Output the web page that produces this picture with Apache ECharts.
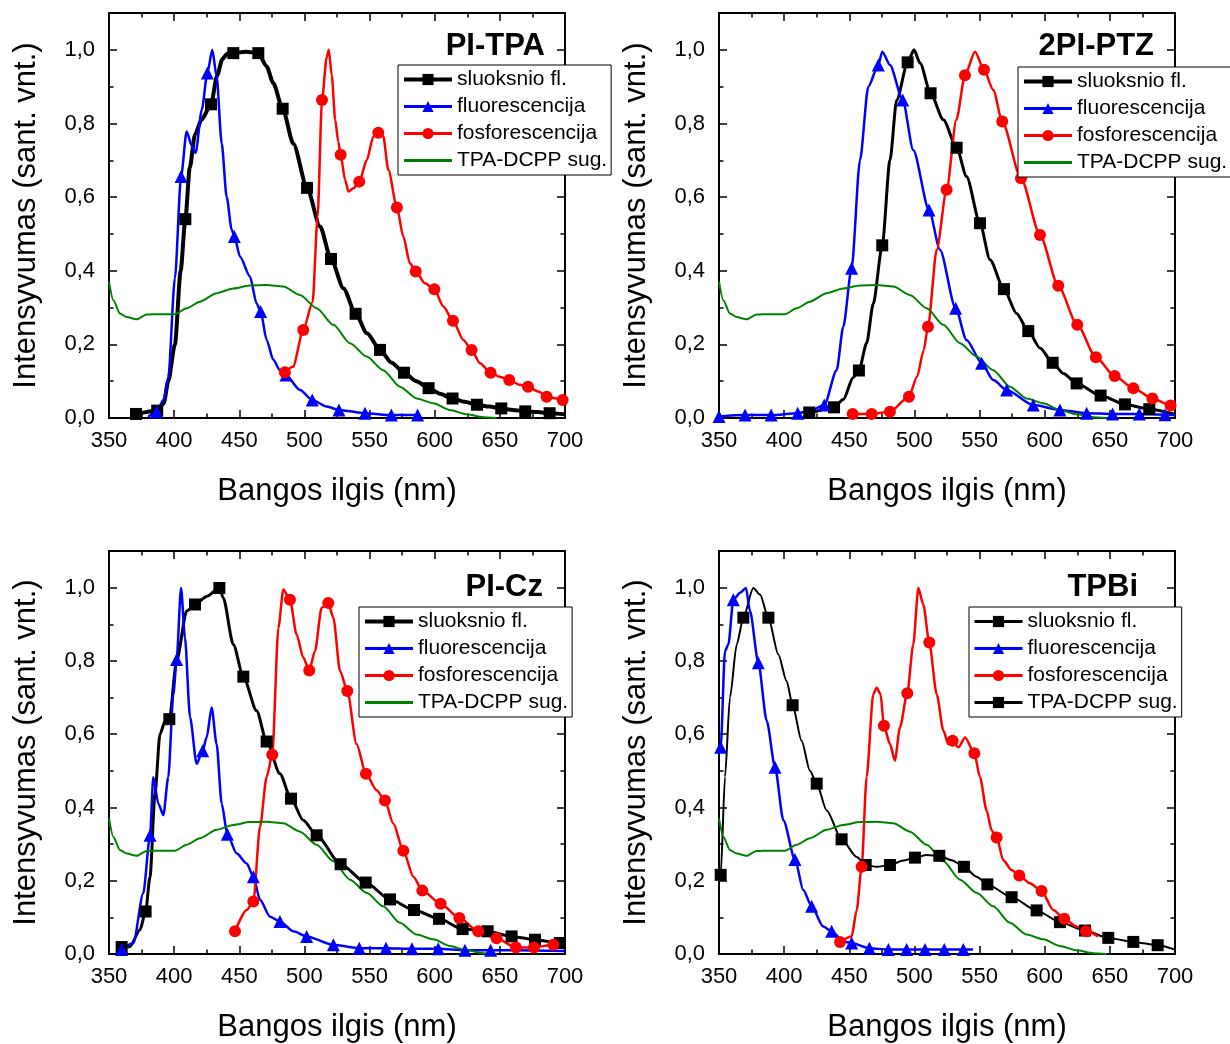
<!DOCTYPE html>
<html>
<head>
<meta charset="utf-8">
<script src="https://cdn.jsdelivr.net/npm/echarts@6/dist/echarts.min.js"></script>
<style>
  html, body { margin: 0; padding: 0; background: #fff; }
  #chart { width: 1230px; height: 1044px; }
</style>
</head>
<body>
<div id="chart"></div>
<script>
// ---- Spectra: [wavelength nm, normalised intensity] ----
// "Curve" arrays trace the spectrum, "Marks" arrays are the points carrying symbols.

// TPA-DCPP absorption (same in every panel)
const dcppAbsorption = [
  [350, 0.37], [353.3, 0.32], [358.4, 0.284], [363.6, 0.274], [371.2, 0.268], [378.9, 0.281],
  [389.1, 0.282], [400.7, 0.282], [409.6, 0.298], [419.8, 0.316], [432.6, 0.339], [445.4, 0.352],
  [458.2, 0.36], [471, 0.361], [483.8, 0.357], [496.6, 0.334], [509.4, 0.298], [522.2, 0.253],
  [535, 0.203], [547.7, 0.167], [560.5, 0.13], [573.3, 0.085], [586.1, 0.053], [598.9, 0.04],
  [611.7, 0.022], [624.5, 0.01], [637.3, 0.002], [647.5, 0.0]
];

// PI-TPA
const tpaFilmCurve = [
  [392, 0.04], [395.5, 0.10], [400.6, 0.20], [405, 0.40], [412, 0.68], [416, 0.77], [421, 0.81],
  [433, 0.93], [437, 0.975], [441, 0.99], [455, 0.995], [471, 0.955], [476, 0.91], [491.5, 0.745],
  [512, 0.52], [530, 0.352], [548, 0.23], [567, 0.15], [586, 0.10], [604, 0.066], [623, 0.044],
  [642, 0.031], [660, 0.022], [679, 0.016], [700, 0.01]
];
const tpaFilmMarks = [
  [370.7, 0.011], [387, 0.02], [408.6, 0.54], [428.3, 0.852], [445.4, 0.991], [464.6, 0.991],
  [483.3, 0.84], [502, 0.625], [520.4, 0.432], [539.3, 0.283], [558, 0.185], [576.4, 0.123],
  [595.3, 0.081], [613.7, 0.053], [632.4, 0.036], [651.1, 0.026], [669.5, 0.018], [688.2, 0.013]
];
const tpaFluoCurve = [
  [380, 0.003], [392, 0.05], [395.5, 0.11], [400.6, 0.38], [409.6, 0.778], [413.5, 0.74],
  [416.5, 0.72], [421.2, 0.837], [429.3, 1.0], [432.6, 0.928], [436.5, 0.746], [440.3, 0.601],
  [444.2, 0.511], [450.6, 0.438], [458.2, 0.384], [463.3, 0.311], [471, 0.212], [476.1, 0.158],
  [481.2, 0.13], [496.6, 0.076], [517.1, 0.031]
];
const tpaFluoMarks = [
  [386.6, 0.017], [405.3, 0.656], [425.5, 0.937], [446.2, 0.493], [466.4, 0.289], [485.8, 0.117],
  [506, 0.049], [526.5, 0.022], [546.5, 0.013], [566.7, 0.008], [586.9, 0.008]
];
const tpaPhosCurve = [
  [491.2, 0.139], [506.3, 0.315], [510.1, 0.547], [517.1, 0.98], [518.7, 1.0], [521, 0.93],
  [523.6, 0.81], [526, 0.75], [531.2, 0.647], [533.8, 0.615], [537.6, 0.624], [547.8, 0.70],
  [552.9, 0.764], [560.5, 0.765], [564.4, 0.674], [575.9, 0.493], [581, 0.42], [592.5, 0.366],
  [606.6, 0.303], [622, 0.212], [634.7, 0.149], [650, 0.112], [665.4, 0.09], [679.6, 0.072],
  [693.5, 0.053]
];
const tpaPhosMarks = [
  [485, 0.124], [499.1, 0.239], [513.5, 0.864], [527.8, 0.715], [542.1, 0.642], [556.7, 0.775],
  [571, 0.572], [585.4, 0.398], [599.7, 0.35], [614, 0.264], [628.3, 0.185], [642.9, 0.123],
  [657.2, 0.103], [671.6, 0.085], [685.9, 0.058], [698.2, 0.049]
];

// 2PI-PTZ
const ptzFilmCurve = [
  [414.7, 0.0], [445.4, 0.05], [453, 0.11], [463.3, 0.203], [468.4, 0.31], [481.2, 0.70],
  [486.4, 0.864], [499.7, 1.0], [504.3, 0.964], [522.2, 0.81], [540, 0.656], [558, 0.43],
  [578.4, 0.284], [596.4, 0.19], [614.3, 0.121], [700, 0.01]
];
const ptzFilmMarks = [
  [419.3, 0.015], [438.3, 0.029], [457.4, 0.129], [475.3, 0.469], [494.8, 0.966], [512.4, 0.882],
  [532.4, 0.734], [550.3, 0.529], [568.7, 0.35], [587.4, 0.236], [606.1, 0.15], [624.5, 0.094],
  [642.9, 0.061], [661.6, 0.037], [680.3, 0.024]
];
const ptzFluoCurve = [
  [420, 0.02], [440.3, 0.13], [445.4, 0.248], [458.2, 0.70], [464.6, 0.90], [475.3, 0.995],
  [481.2, 0.959], [499.1, 0.728], [519.6, 0.457], [540, 0.212], [560.5, 0.103], [700, 0.008]
];
const ptzFluoMarks = [
  [350, 0.004], [370, 0.008], [390, 0.008], [410.4, 0.013], [430.8, 0.035], [451.8, 0.407],
  [472.3, 0.959], [491, 0.864], [511.2, 0.565], [531.6, 0.298], [551.6, 0.149], [570.8, 0.076],
  [591.2, 0.035], [611.7, 0.022], [632.2, 0.013], [652.1, 0.011], [672.6, 0.011], [692.3, 0.009]
];
const ptzPhosCurve = [
  [502, 0.112], [507.2, 0.185], [517.1, 0.457], [532.2, 0.81], [546.5, 0.995], [560.5, 0.891],
  [700, 0.03]
];
const ptzPhosMarks = [
  [452.6, 0.011], [467.2, 0.011], [481.2, 0.017], [495.8, 0.058], [510.4, 0.248], [524.7, 0.62],
  [538.8, 0.931], [553.4, 0.946], [567.4, 0.805], [581.8, 0.651], [596.4, 0.497], [610.4, 0.359],
  [625, 0.253], [639.3, 0.165], [653.7, 0.114], [668, 0.081], [682.6, 0.053], [696.6, 0.034]
];

// PI-Cz
const czFilmCurve = [
  [366, 0.02], [373.8, 0.066], [381.5, 0.211], [385.3, 0.437], [389.1, 0.60], [393, 0.635],
  [401.9, 0.80], [409.6, 0.936], [425, 0.976], [437.7, 0.972], [445.4, 0.845], [463.3, 0.664],
  [481.2, 0.492], [499.1, 0.365], [700, 0.028]
];
const czFilmMarks = [
  [359.7, 0.019], [378.1, 0.116], [396.3, 0.641], [416, 0.954], [434.7, 0.999], [453.1, 0.757],
  [471, 0.58], [489.7, 0.424], [509.4, 0.324], [527.8, 0.245], [547, 0.195], [565.7, 0.149],
  [584.1, 0.12], [603.3, 0.096], [621.4, 0.068], [640.6, 0.062], [659, 0.048], [677, 0.039],
  [696.1, 0.03]
];
const czFluoCurve = [
  [368.7, 0.03], [376.3, 0.166], [384, 0.483], [387.9, 0.41], [391.7, 0.379], [395.5, 0.483],
  [399.4, 0.709], [405.3, 0.999], [408.3, 0.863], [412.2, 0.646], [417.3, 0.519], [425, 0.592],
  [428.8, 0.673], [432.6, 0.573], [436.5, 0.41], [448, 0.274], [455.7, 0.247], [465.9, 0.148],
  [473.6, 0.102], [491.5, 0.062], [662, 0.01], [700, 0.008]
];
const czFluoMarks = [
  [359.7, 0.012], [381.5, 0.324], [401.9, 0.804], [421.9, 0.555], [440.8, 0.327], [460.8, 0.211],
  [481.2, 0.089], [501.7, 0.048], [522.2, 0.025], [542.1, 0.016], [562.6, 0.016], [582.5, 0.014],
  [602.7, 0.014], [623.2, 0.01], [642.9, 0.01]
];
const czPhosCurve = [
  [455.7, 0.12], [465.9, 0.347], [471, 0.483], [480, 0.89], [483.8, 0.995], [494, 0.872],
  [499.1, 0.809], [508.1, 0.827], [513.2, 0.945], [522.2, 0.918], [527.3, 0.773], [540, 0.573],
  [555.4, 0.447], [568.2, 0.356], [583.6, 0.211], [700, 0.02]
];
const czPhosMarks = [
  [446.7, 0.062], [460.8, 0.143], [475.3, 0.544], [488.9, 0.967], [503.7, 0.774], [518.3, 0.958],
  [532.9, 0.718], [547.2, 0.492], [561.8, 0.419], [575.9, 0.282], [590.5, 0.173], [604.5, 0.137],
  [618.9, 0.098], [633.4, 0.062], [647.5, 0.043], [662.3, 0.018], [676.2, 0.018], [691, 0.025]
];

// TPBi
const tpbiFilmCurve = [
  [350.5, 0.20], [354.6, 0.483], [358.4, 0.70], [363.6, 0.845], [376.3, 0.999], [381.5, 0.981],
  [395.5, 0.818], [401.9, 0.745], [413.4, 0.582], [419.8, 0.50], [432.6, 0.392], [455.7, 0.265],
  [471, 0.238], [491.5, 0.255], [509.4, 0.27], [528.6, 0.256], [547.7, 0.211], [700, 0.012]
];
const tpbiFilmMarks = [
  [351.3, 0.216], [368.7, 0.918], [387.9, 0.918], [406.5, 0.679], [425, 0.465], [444.1, 0.313],
  [462.6, 0.243], [481.2, 0.243], [500.4, 0.263], [519.1, 0.268], [538, 0.238], [556, 0.19],
  [574.6, 0.155], [593.8, 0.119], [611.7, 0.087], [630.9, 0.064], [648.8, 0.044], [668, 0.033],
  [686.7, 0.024]
];
const tpbiFluoCurve = [
  [350, 0.55], [354.6, 0.827], [357.2, 0.845], [366.2, 0.986], [370.7, 0.999], [373.8, 0.936],
  [386.6, 0.637], [399.4, 0.365], [414.7, 0.175], [430, 0.075], [445.4, 0.034], [545, 0.012]
];
const tpbiFluoMarks = [
  [351.3, 0.564], [361, 0.967], [380.2, 0.795], [393, 0.51], [408.3, 0.258], [421.1, 0.13],
  [436.5, 0.062], [451.8, 0.03], [465.4, 0.016], [480, 0.012], [494, 0.012], [508.1, 0.012],
  [522.9, 0.012], [537.5, 0.012]
];
const tpbiPhosCurve = [
  [451.8, 0.048], [455.7, 0.12], [463.3, 0.483], [468.4, 0.709], [471, 0.727], [474, 0.709],
  [481.2, 0.573], [485, 0.528], [488.9, 0.619], [499.1, 0.845], [503, 0.999], [506.8, 0.954],
  [517.1, 0.709], [522.2, 0.61], [526, 0.573], [533.8, 0.564], [538.9, 0.591], [550.3, 0.483],
  [555.4, 0.392], [559.2, 0.338], [568.2, 0.256], [574.6, 0.229], [588.6, 0.193], [606.6, 0.12],
  [624.5, 0.075], [641, 0.048]
];
const tpbiPhosMarks = [
  [442.9, 0.033], [459.5, 0.238], [476.6, 0.623], [494.5, 0.712], [511.4, 0.85], [529.3, 0.582],
  [546, 0.548], [563.1, 0.318], [580.5, 0.214], [597.6, 0.172], [615, 0.096], [631.7, 0.062]
];

// Axis ticks
const xTicks = { min: 350, max: 700, step: 50 };
const yTicks = { min: 0, max: 1.1, step: 0.2, minorStep: 0.1 };

const seriesLabels = ['sluoksnio fl.', 'fluorescencija', 'fosforescencija', 'TPA-DCPP sug.'];

// ---- Layout & styling ----
const FONT = "'Liberation Sans', Arial, Helvetica, sans-serif";
const panels = [
  { title: 'PI-TPA', grid: { left: 109, top: 13 }, titlePos: { right: 685, top: 31 }, legendPos: { left: 398, top: 65 },
    film: [tpaFilmCurve, tpaFilmMarks], fluo: [tpaFluoCurve, tpaFluoMarks], phos: [tpaPhosCurve, tpaPhosMarks], filmWidth: 4 },
  { title: '2PI-PTZ', grid: { left: 719, top: 13 }, titlePos: { right: 76, top: 31 }, legendPos: { left: 1018, top: 67 },
    film: [ptzFilmCurve, ptzFilmMarks], fluo: [ptzFluoCurve, ptzFluoMarks], phos: [ptzPhosCurve, ptzPhosMarks], filmWidth: 3 },
  { title: 'PI-Cz', grid: { left: 109, top: 551 }, titlePos: { right: 687, top: 572 }, legendPos: { left: 359, top: 607 },
    film: [czFilmCurve, czFilmMarks], fluo: [czFluoCurve, czFluoMarks], phos: [czPhosCurve, czPhosMarks], filmWidth: 3 },
  { title: 'TPBi', grid: { left: 719, top: 551 }, titlePos: { right: 92, top: 572 }, legendPos: { left: 969, top: 607 },
    film: [tpbiFilmCurve, tpbiFilmMarks], fluo: [tpbiFluoCurve, tpbiFluoMarks], phos: [tpbiPhosCurve, tpbiPhosMarks], filmWidth: 2,
    absLegendAsFilm: true }
];
const GRID_W = 456, GRID_H = 405;

// Merge a traced curve with its symbol points; only symbol points show a marker.
function buildLine(curve, marks) {
  const pts = curve.map(p => ({ value: p, symbol: 'none' }))
    .concat(marks.map(p => ({ value: p })));
  pts.sort((a, b) => a.value[0] - b.value[0]);
  return pts;
}

const decimalComma = v => (v > 1.05 ? '' : v.toFixed(1).replace('.', ','));
const frameLine = { show: true, onZero: false, lineStyle: { color: '#000', width: 2 } };
const majorTick = { show: true, inside: true, length: 8, lineStyle: { color: '#000', width: 1.5 } };
const minorTickX = { show: true, splitNumber: 2, length: 4.5, lineStyle: { color: '#000', width: 1.5 } };

const grids = [], xAxes = [], yAxes = [], series = [], legends = [], titles = [];

panels.forEach((p, i) => {
  grids.push({ left: p.grid.left, top: p.grid.top, width: GRID_W, height: GRID_H, containLabel: false });

  // bottom (labelled) and top (mirror) x axes
  const xBase = { type: 'value', gridIndex: i, min: xTicks.min, max: xTicks.max, interval: xTicks.step,
    axisLine: frameLine, axisTick: majorTick, minorTick: minorTickX, splitLine: { show: false } };
  xAxes.push(Object.assign({}, xBase, {
    position: 'bottom',
    axisLabel: { show: true, color: '#000', fontSize: 22, fontFamily: FONT, margin: 12 },
    name: 'Bangos ilgis (nm)', nameLocation: 'middle', nameGap: 58,
    nameTextStyle: { color: '#000', fontSize: 31, fontFamily: FONT }
  }));
  xAxes.push(Object.assign({}, xBase, { position: 'top', axisLabel: { show: false } }));

  // left/right y axes: major (0.2) and minor (0.1) tick layers
  const yMajor = { type: 'value', gridIndex: i, min: yTicks.min, max: yTicks.max, interval: yTicks.step,
    axisLine: frameLine, axisTick: majorTick, splitLine: { show: false } };
  const yMinor = { type: 'value', gridIndex: i, min: yTicks.min, max: yTicks.max, interval: yTicks.minorStep,
    axisLine: { show: false }, axisLabel: { show: false }, splitLine: { show: false },
    axisTick: { show: true, inside: true, length: 4.5, lineStyle: { color: '#000', width: 1.5 } } };
  yAxes.push(Object.assign({}, yMajor, {
    position: 'left',
    axisLabel: { show: true, color: '#000', fontSize: 22, fontFamily: FONT, margin: 14, formatter: decimalComma, showMaxLabel: false },
    name: 'Intensyvumas (sant. vnt.)', nameLocation: 'middle', nameGap: 67,
    nameTextStyle: { color: '#000', fontSize: 31, fontFamily: FONT }
  }));
  yAxes.push(Object.assign({}, yMinor, { position: 'left' }));
  yAxes.push(Object.assign({}, yMajor, { position: 'right', axisLabel: { show: false } }));
  yAxes.push(Object.assign({}, yMinor, { position: 'right' }));

  const names = seriesLabels.map(l => p.title + ' · ' + l);
  const common = { type: 'line', xAxisIndex: 2 * i, yAxisIndex: 4 * i, showAllSymbol: true,
    smooth: 0.25, smoothMonotone: 'x', animation: false, silent: true, clip: true };

  series.push(Object.assign({}, common, {
    name: names[0], data: buildLine(p.film[0], p.film[1]),
    symbol: 'rect', symbolSize: 12, color: '#000',
    lineStyle: { color: '#000', width: p.filmWidth }, itemStyle: { color: '#000' }
  }));
  series.push(Object.assign({}, common, {
    name: names[1], data: buildLine(p.fluo[0], p.fluo[1]),
    symbol: 'triangle', symbolSize: 13, color: '#0000ff',
    lineStyle: { color: '#0000ff', width: 2.5 }, itemStyle: { color: '#0000ff' }
  }));
  series.push(Object.assign({}, common, {
    name: names[2], data: buildLine(p.phos[0], p.phos[1]),
    symbol: 'circle', symbolSize: 12, color: '#ff0000',
    lineStyle: { color: '#ff0000', width: 2.5 }, itemStyle: { color: '#ff0000' }
  }));
  series.push(Object.assign({}, common, {
    name: names[3], data: buildLine(dcppAbsorption, []),
    symbol: p.absLegendAsFilm ? 'rect' : 'none', symbolSize: 12, color: '#008000',
    lineStyle: { color: '#008000', width: 2 }, itemStyle: { color: '#008000' }
  }));

  // legend keys: line + symbol; the absorption key is a plain line
  const legendData = [
    { name: names[0], lineStyle: { width: p.filmWidth === 2 ? 3 : 4 } },
    { name: names[1], lineStyle: { width: 3 } },
    { name: names[2], lineStyle: { width: 3 } },
    { name: names[3], lineStyle: { width: 3 }, itemStyle: { opacity: 0 } }
  ];
  if (p.absLegendAsFilm) {
    legendData[3].lineStyle = { color: '#000', width: 3 };
    legendData[3].itemStyle = { color: '#000', opacity: 1 };
  }
  legends.push({
    orient: 'vertical', left: p.legendPos.left, top: p.legendPos.top, data: legendData,
    formatter: n => n.slice(n.indexOf(' · ') + 3),
    itemWidth: 48, itemHeight: 14, itemGap: 6, padding: [4, 4, 4, 4],
    borderColor: '#000', borderWidth: 1, borderRadius: 0, backgroundColor: '#fff',
    selectedMode: false, z: 10,
    textStyle: { color: '#000', fontSize: 21, lineHeight: 20, fontFamily: FONT }
  });

  titles.push({ text: p.title, right: p.titlePos.right, top: p.titlePos.top, padding: 0,
    textStyle: { color: '#000', fontSize: 31, fontWeight: 'bold', fontFamily: FONT } });
});

const chart = echarts.init(document.getElementById('chart'), null, { renderer: 'canvas' });
chart.setOption({
  animation: false,
  backgroundColor: '#fff',
  title: titles,
  legend: legends,
  grid: grids,
  xAxis: xAxes,
  yAxis: yAxes,
  series: series
});
</script>
</body>
</html>
